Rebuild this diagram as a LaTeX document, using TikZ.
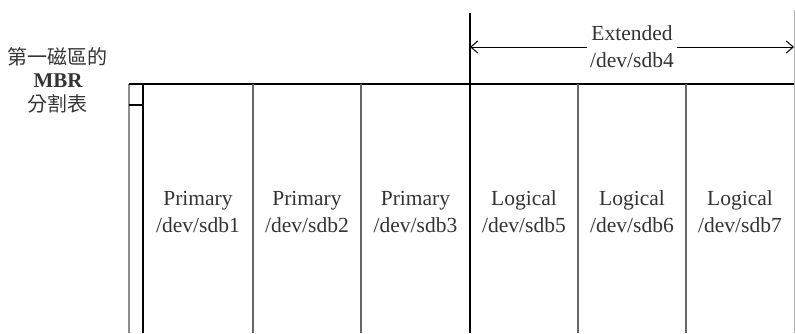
\documentclass[tikz,border=0pt]{standalone}
\usepackage{fontspec}
\setmainfont{Liberation Serif}
\newfontfamily\cjkfont{Noto Sans CJK TC}
\usetikzlibrary{arrows.meta}

\begin{document}
\begin{tikzpicture}[x=1pt,y=-1pt,
      every node/.append style={align=center,inner sep=2pt,text=black!80,
        font=\fontsize{21.5}{27}\selectfont},
      sep/.style={draw=black!60,line width=2.2pt},
      thin edge/.style={draw=black,line width=1.1pt}]
    \tikzstyle{span} = [{Straight Barb[length=7pt,width=12pt]}-{Straight Barb[length=7pt,width=12pt]},line width=1pt]
    \useasboundingbox (0,0) rectangle (795,333);
    % frame of the disk
    \coordinate (mbr top) at (129,84);
    \coordinate (mbr bottom) at (129,333);
    \coordinate (tab top) at (143,84);
    \coordinate (tab bottom) at (143,333);
    \coordinate (disk end) at (795,84);
    \draw[draw=black!45,line width=2pt] (mbr top) -- (mbr bottom);
    \draw[thin edge] (tab top) -- (tab bottom);
    \draw[thin edge] (129,105) -- (143,105);
    \draw[thin edge] (mbr top) -- (disk end);
    \draw[draw=black!30,line width=1pt] (794.5,10) -- (794.5,333);
    % partition borders
    \foreach \x in {253,361,578,686}
      \draw[sep] (\x,84) -- (\x,333);
    \coordinate (ext top) at (470,13);
    \coordinate (ext bottom) at (470,333);
    \draw[thin edge] (ext top) -- (ext bottom);
    % extended partition
    \coordinate (ext west) at (470,47);
    \coordinate (ext east) at (794,47);
    \draw[span] (ext west) -- (ext east);
    \node[fill=white,inner sep=3pt] (extended) at (632,47) {Extended\\/dev/sdb4};
    % partitions
    \node (sdb1) at (198,212) {Primary\\/dev/sdb1};
    \node (sdb2) at (307,212) {Primary\\/dev/sdb2};
    \node (sdb3) at (415.5,212) {Primary\\/dev/sdb3};
    \node (sdb5) at (524,212) {Logical\\/dev/sdb5};
    \node (sdb6) at (632,212) {Logical\\/dev/sdb6};
    \node (sdb7) at (740,212) {Logical\\/dev/sdb7};
    % MBR label
    \node[font=\fontsize{20}{23.5}\selectfont] (mbr) at (58,80)
      {{\cjkfont 第一磁區的}\\{\fontsize{21}{23.5}\selectfont\bfseries MBR}\\{\cjkfont 分割表}};
  \end{tikzpicture}
\end{document}
